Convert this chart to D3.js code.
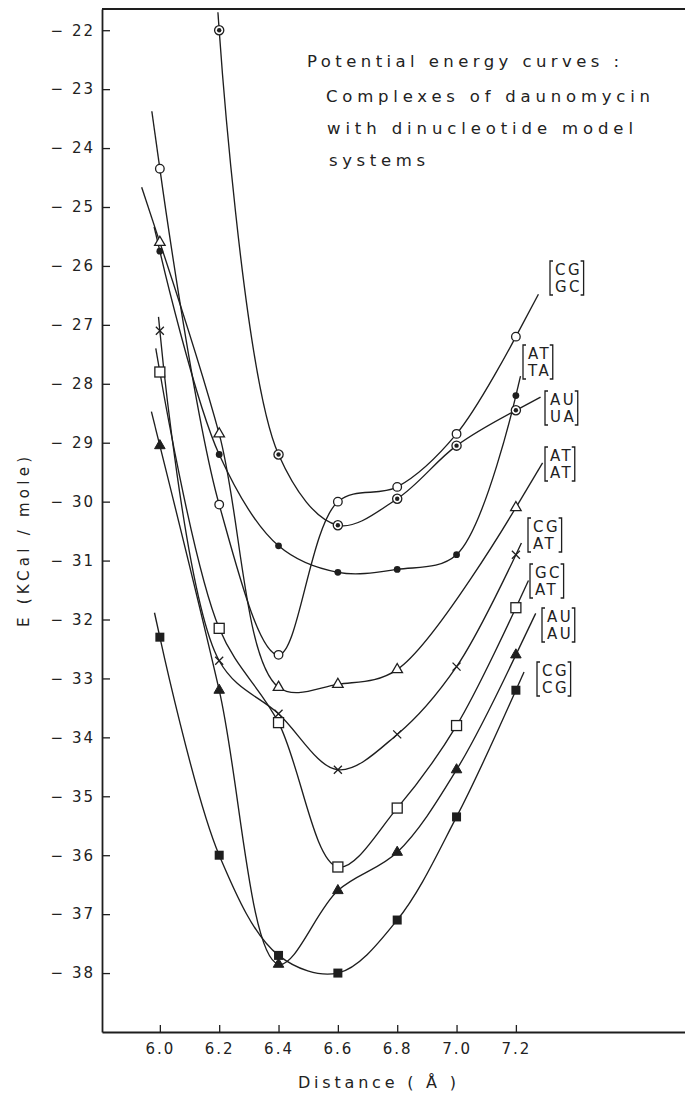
<!DOCTYPE html>
<html>
<head>
<meta charset="utf-8">
<script src="https://cdn.jsdelivr.net/npm/d3@7/dist/d3.min.js"></script>
<style>
  html, body { margin: 0; padding: 0; background: #ffffff; }
  svg { display: block; }
  text { font-family: "DejaVu Sans", "Noto Sans", sans-serif; fill: #222; }
</style>
</head>
<body>
<svg id="chart" width="685" height="1094"></svg>
<script>
// Interplanar distance (Å) at which each complex was evaluated
const distances = [6.0, 6.2, 6.4, 6.6, 6.8, 7.0, 7.2];

// Interaction energy E (kcal/mole); null where no value was computed
const CG_GC = [-24.35, -30.05, -32.6, -30.0, -29.75, -28.85, -27.2];
const AT_TA = [-25.75, -29.2, -30.75, -31.2, -31.15, -30.9, -28.2];
const AU_UA = [null, -22.0, -29.2, -30.4, -29.95, -29.05, -28.45];
const AT_AT = [-25.6, -28.85, -33.15, -33.1, -32.85, null, -30.1];
const CG_AT = [-27.1, -32.7, -33.6, -34.55, -33.95, -32.8, -30.9];
const GC_AT = [-27.8, -32.15, -33.75, -36.2, -35.2, -33.8, -31.8];
const AU_AU = [-29.05, -33.2, -37.85, -36.6, -35.95, -34.55, -32.6];
const CG_CG = [-32.3, -36.0, -37.7, -38.0, -37.1, -35.35, -33.2];

// Dinucleotide pair names (upper strand / lower strand)
const pairNames = [
  ["CG", "GC"], ["AT", "TA"], ["AU", "UA"], ["AT", "AT"],
  ["CG", "AT"], ["GC", "AT"], ["AU", "AU"], ["CG", "CG"]
];
const seriesValues = [CG_GC, AT_TA, AU_UA, AT_AT, CG_AT, GC_AT, AU_AU, CG_CG];

// Axis ticks
const yTicks = [-22, -23, -24, -25, -26, -27, -28, -29, -30, -31, -32, -33, -34, -35, -36, -37, -38];
const xTicks = [6.0, 6.2, 6.4, 6.6, 6.8, 7.0, 7.2];

// Title text
const titleLines = [
  "Potential energy curves :",
  "Complexes of daunomycin",
  "with dinucleotide model",
  "systems"
];

// ---- styling / layout (not data) ----
const markerTypes = ["circle", "dot", "circledot", "triangle", "cross", "square", "filltriangle", "fillsquare"];
// how far each hand-drawn curve runs past its first / last point (px)
const runOut = [[58, 48], [25, 20], [18, 28], [58, 52], [14, 13], [24, 30], [35, 46], [25, 20]];
// bracket label placement: left edge, vertical centre
const labelPlace = [[550, 278], [523, 362], [545, 408], [545, 464], [528, 535], [530, 581], [542, 625], [537, 679]];
const titlePlace = [[307, 67, 312], [326, 102, 324], [327, 134, 306], [329, 166, 96]];

const INK = "#1e1e1e";
const svg = d3.select("#chart");

const x = d3.scaleLinear().domain([5.805, 7.77]).range([102, 685]);
const y = d3.scaleLinear().domain([-39.0, -21.64]).range([1032, 9]);

// ---- axes ----
const yAxis = d3.axisLeft(y)
  .tickValues(yTicks)
  .tickSizeInner(-8)
  .tickSizeOuter(0)
  .tickPadding(7)
  .tickFormat(d => "\u2212 " + Math.abs(d));

const gy = svg.append("g").attr("transform", "translate(102,0)").call(yAxis);
gy.select(".domain").attr("stroke", INK).attr("stroke-width", 1.8);
gy.selectAll(".tick line").attr("stroke", INK).attr("stroke-width", 1.3);
gy.selectAll(".tick text")
  .attr("fill", INK)
  .style("font-size", "15px")
  .style("letter-spacing", "2px")
  .style("font-family", "DejaVu Sans");

const xAxis = d3.axisBottom(x)
  .tickValues(xTicks)
  .tickSizeInner(-7)
  .tickSizeOuter(0)
  .tickPadding(11)
  .tickFormat(d3.format(".1f"));

const gx = svg.append("g").attr("transform", "translate(0,1032)").call(xAxis);
gx.select(".domain").attr("stroke", INK).attr("stroke-width", 1.8);
gx.selectAll(".tick line").attr("stroke", INK).attr("stroke-width", 1.3);
gx.selectAll(".tick text")
  .attr("fill", INK)
  .style("font-size", "15px")
  .style("letter-spacing", "2px")
  .style("font-family", "DejaVu Sans");

// top frame line
svg.append("line")
  .attr("x1", x.range()[0]).attr("x2", x.range()[1])
  .attr("y1", y.range()[1]).attr("y2", y.range()[1])
  .attr("stroke", INK).attr("stroke-width", 1.8);

// axis titles
svg.append("text")
  .attr("x", 377).attr("y", 1088)
  .attr("text-anchor", "middle")
  .attr("textLength", 158)
  .attr("lengthAdjust", "spacing")
  .style("font-size", "16px")
  .text("Distance ( \u00C5 )");

svg.append("text")
  .attr("transform", "translate(29,542) rotate(-90)")
  .attr("text-anchor", "middle")
  .attr("textLength", 170)
  .attr("lengthAdjust", "spacing")
  .style("font-size", "15px")
  .text("E (KCal / mole)");

// title block
titleLines.forEach((t, i) => {
  const [tx, ty, tl] = titlePlace[i];
  svg.append("text")
    .attr("x", tx).attr("y", ty)
    .attr("textLength", tl)
    .attr("lengthAdjust", "spacing")
    .style("font-size", "16.5px")
    .text(t);
});

// ---- curves ----
const line = d3.line()
  .x(d => x(d[0]))
  .y(d => y(d[1]))
  .curve(d3.curveCatmullRom.alpha(0.5));

const curveLayer = svg.append("g");
const markerLayer = svg.append("g");

function drawMarker(g, type, cx, cy) {
  const s = g.append("g").attr("transform", `translate(${cx},${cy})`);
  const sw = 1.3;
  switch (type) {
    case "circle":
      s.append("circle").attr("r", 4.3).attr("fill", "#fff").attr("stroke", INK).attr("stroke-width", sw);
      break;
    case "dot":
      s.append("circle").attr("r", 3.4).attr("fill", INK);
      break;
    case "circledot":
      s.append("circle").attr("r", 4.6).attr("fill", "#fff").attr("stroke", INK).attr("stroke-width", sw);
      s.append("circle").attr("r", 2.2).attr("fill", INK);
      break;
    case "triangle":
      s.append("path").attr("d", d3.symbol().type(d3.symbolTriangle).size(48)())
        .attr("fill", "#fff").attr("stroke", INK).attr("stroke-width", sw);
      break;
    case "filltriangle":
      s.append("path").attr("d", d3.symbol().type(d3.symbolTriangle).size(48)())
        .attr("fill", INK).attr("stroke", INK).attr("stroke-width", 1);
      break;
    case "cross":
      s.append("path").attr("d", "M-4,-4L4,4M-4,4L4,-4")
        .attr("fill", "none").attr("stroke", INK).attr("stroke-width", sw);
      break;
    case "square":
      s.append("rect").attr("x", -5).attr("y", -5).attr("width", 10).attr("height", 10)
        .attr("fill", "#fff").attr("stroke", INK).attr("stroke-width", sw);
      break;
    case "fillsquare":
      s.append("rect").attr("x", -4.5).attr("y", -4.5).attr("width", 9).attr("height", 9)
        .attr("fill", INK);
      break;
  }
}

seriesValues.forEach((vals, i) => {
  const pts = distances.map((d, k) => [d, vals[k]]).filter(p => p[1] !== null);

  const path = curveLayer.append("path")
    .attr("d", line(pts))
    .attr("fill", "none")
    .attr("stroke", INK)
    .attr("stroke-width", 1.35);

  // continue each curve a little past its end points along the end tangents
  const node = path.node();
  const L = node.getTotalLength();
  const a0 = node.getPointAtLength(0), a1 = node.getPointAtLength(2);
  const b0 = node.getPointAtLength(L), b1 = node.getPointAtLength(L - 2);
  const ends = [[a0, a1, runOut[i][0]], [b0, b1, runOut[i][1]]];
  ends.forEach(([p, q, len]) => {
    const dx = p.x - q.x, dy = p.y - q.y;
    const n = Math.hypot(dx, dy) || 1;
    curveLayer.append("line")
      .attr("x1", p.x).attr("y1", p.y)
      .attr("x2", p.x + dx / n * len).attr("y2", p.y + dy / n * len)
      .attr("stroke", INK).attr("stroke-width", 1.35);
  });

  pts.forEach(p => drawMarker(markerLayer, markerTypes[i], x(p[0]), y(p[1])));
});

// ---- bracketed pair labels ----
const labelLayer = svg.append("g");
pairNames.forEach((pair, i) => {
  const [lx, cy] = labelPlace[i];
  const g = labelLayer.append("g");
  let maxW = 0;
  pair.forEach((t, k) => {
    const tx = g.append("text")
      .attr("x", lx + 5)
      .attr("y", cy + (k === 0 ? -8.5 : 8.5))
      .attr("dy", "0.36em")
      .style("font-size", "15px")
      .style("letter-spacing", "2.5px")
      .text(t);
    maxW = Math.max(maxW, tx.node().getComputedTextLength());
  });
  const top = cy - 17, bot = cy + 17;
  const rx = lx + 5 + maxW + 1.5;
  g.append("path")
    .attr("d", `M${lx + 3},${top}L${lx},${top}L${lx},${bot}L${lx + 3},${bot}` +
               `M${rx - 3},${top}L${rx},${top}L${rx},${bot}L${rx - 3},${bot}`)
    .attr("fill", "none").attr("stroke", INK).attr("stroke-width", 1.3);
});
</script>
</body>
</html>
